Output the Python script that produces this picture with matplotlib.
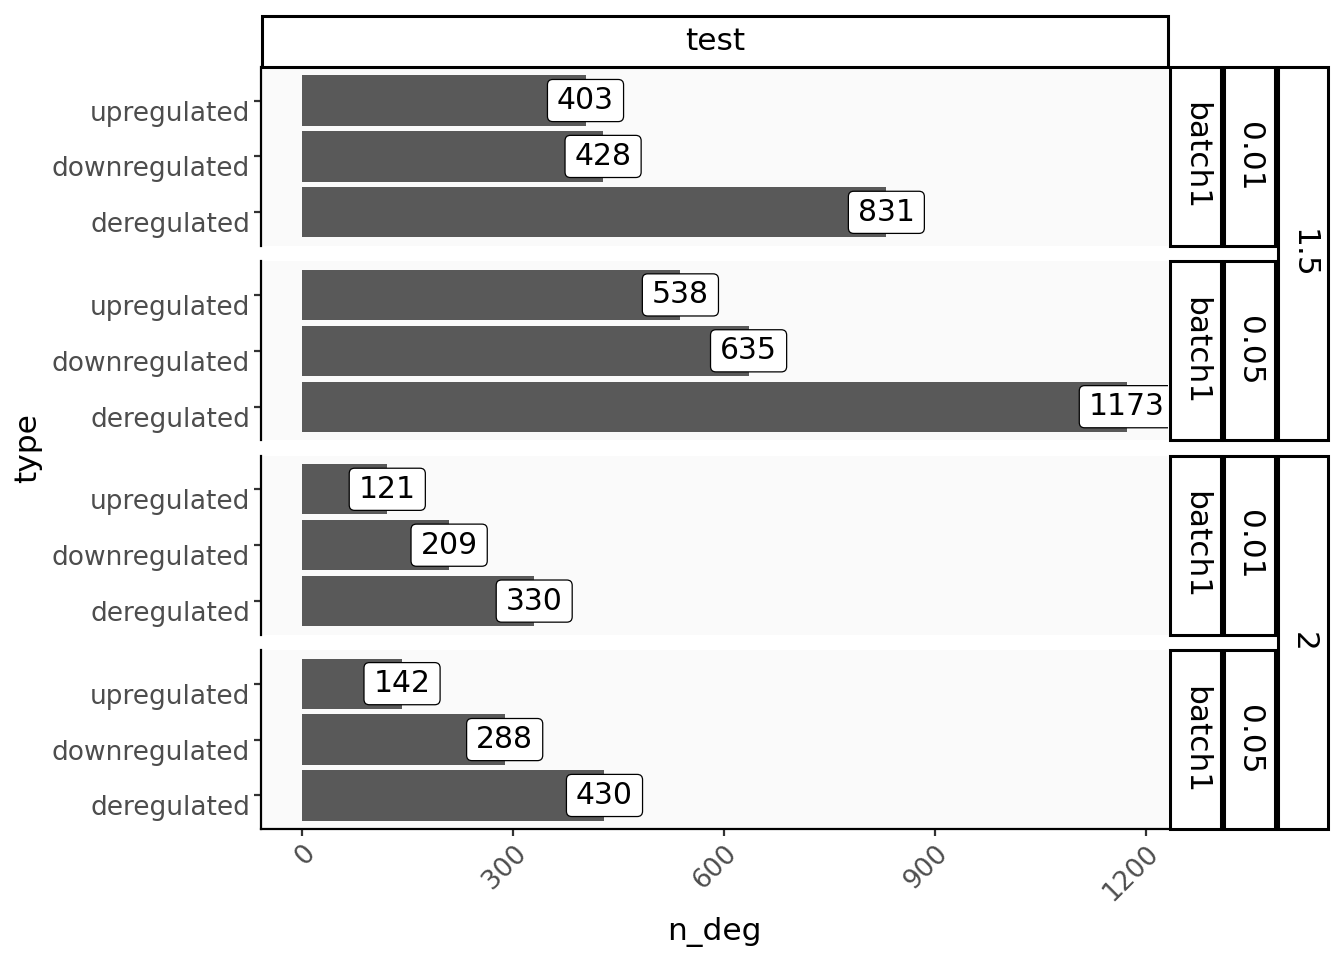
import matplotlib
matplotlib.use("Agg")
import matplotlib.pyplot as plt
from matplotlib.patches import Rectangle, BoxStyle
from matplotlib.transforms import ScaledTranslation

# data (bottom to top inside each panel)
types = ["deregulated", "downregulated", "upregulated"]
fold_change = ["1.5", "1.5", "2", "2"]
p_value = ["0.01", "0.05", "0.01", "0.05"]
batch = ["batch1", "batch1", "batch1", "batch1"]
n_deg = [
    [831, 428, 403],
    [1173, 635, 538],
    [330, 209, 121],
    [430, 288, 142],
]
x_ticks = [0, 300, 600, 900, 1200]

W, H = 1344, 960
BAR = "#595959"
PANEL_BG = "#FAFAFA"
TICK_COL = "#4D4D4D"
BIG = 22.5
LAB = 21.5
TICK = 19

plt.rcParams["font.family"] = ["DejaVu Sans"]


class LabelBox(BoxStyle.Round):
    """rounded box with a bit more room left and right"""
    def __call__(self, x0, y0, width, height, mutation_size):
        ex = 0.1 * mutation_size
        return super().__call__(x0 - ex, y0, width + 2 * ex, height, mutation_size)


def fr(x0, y0, x1, y1):
    return [x0 / W, 1 - y1 / H, (x1 - x0) / W, (y1 - y0) / H]


def box(x0, y0, x1, y1, txt, rot=0):
    fig.add_artist(Rectangle((x0 / W, 1 - y1 / H), (x1 - x0) / W, (y1 - y0) / H,
                             transform=fig.transFigure, facecolor="white",
                             edgecolor="black", linewidth=2.2))
    fig.text((x0 + x1) / 2 / W, 1 - (y0 + y1) / 2 / H, txt, rotation=rot,
             ha="center", va="center", fontsize=BIG, color="black")


fig = plt.figure(figsize=(13.44, 9.6), dpi=100)

left, right = 261, 1168
top, bottom, gap = 67, 829, 15.5
ph = (bottom - top - 3 * gap) / 4

xmax = max(max(v) for v in n_deg)
xpad = 0.05 * xmax

rows = []
for i, vals in enumerate(n_deg):
    y0 = top + i * (ph + gap)
    y1 = y0 + ph
    rows.append((y0, y1))
    ax = fig.add_axes(fr(left, y0, right, y1))
    ax.set_facecolor(PANEL_BG)
    ax.barh(types, vals, height=0.9, color=BAR)
    for t, v in zip(types, vals):
        ax.text(v, t, str(v), ha="center", va="center", fontsize=LAB,
                color="black", zorder=5, clip_on=True,
                bbox=dict(boxstyle=LabelBox(pad=0.22, rounding_size=0.18),
                          facecolor="white", edgecolor="black", linewidth=0.9))
    ax.set_xlim(-xpad, xmax + xpad)
    ax.set_ylim(-0.6, 2.6)
    for s in ["top", "right"]:
        ax.spines[s].set_visible(False)
    ax.spines["left"].set_linewidth(1.6)
    ax.tick_params(axis="y", length=5, width=1.6, color="#333333", pad=3,
                   labelsize=TICK, labelcolor=TICK_COL)
    for lab in ax.get_yticklabels():
        lab.set_transform(lab.get_transform() +
                          ScaledTranslation(0, -0.1, fig.dpi_scale_trans))
    ax.set_xticks(x_ticks)
    if i < 3:
        ax.spines["bottom"].set_visible(False)
        ax.tick_params(axis="x", bottom=False, labelbottom=False)
    else:
        ax.spines["bottom"].set_linewidth(1.6)
        ax.tick_params(axis="x", length=5, width=1.6, color="#333333", pad=3,
                       labelsize=TICK, labelcolor=TICK_COL)
        for lab in ax.get_xticklabels():
            lab.set_rotation(45)
            lab.set_ha("right")
            lab.set_va("top")
            lab.set_rotation_mode("anchor")
        ax.set_xlabel("n_deg", fontsize=BIG, labelpad=8)

    # inner strips
    box(1170, y0, 1221, y1, batch[i], rot=-90)
    box(1224, y0, 1275, y1, p_value[i], rot=-90)

# outer strips span two rows each
box(1278, rows[0][0], 1328, rows[1][1], fold_change[0], rot=-90)
box(1278, rows[2][0], 1328, rows[3][1], fold_change[2], rot=-90)

# top strip
box(262, 16, 1168, 67, "test")

fig.text(28 / W, 1 - 448 / H, "type", rotation=90, ha="center", va="center",
         fontsize=BIG)

plt.savefig("out.png", dpi=100)
